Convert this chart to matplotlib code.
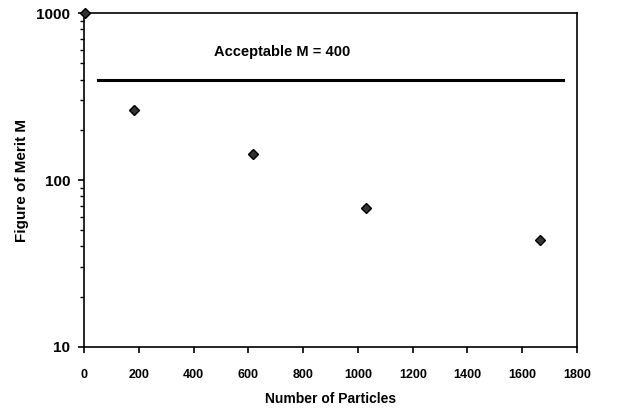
import matplotlib.pyplot as plt
from matplotlib.ticker import FixedLocator, LogLocator, NullFormatter

plt.rcParams['font.family'] = ['Liberation Sans', 'DejaVu Sans']
plt.rcParams['font.weight'] = 'bold'

# Данные
particles = [5, 182, 617, 1030, 1665]
merit = [1000, 262, 143, 68, 44]
acceptable_x = [50, 1750]
acceptable_m = [400, 400]

fig = plt.figure(figsize=(6.39, 4.12), dpi=100)
ax = fig.add_axes([0.1315, 0.158, 0.7715, 0.81])

ax.plot(acceptable_x, acceptable_m, color="black", linewidth=2.2)
ax.plot(particles, merit, linestyle="none", marker="D", markersize=5.5,
        markerfacecolor="#333333", markeredgecolor="black", clip_on=False, zorder=5)
ax.text(723, 585, "Acceptable M = 400", ha="center", va="center", fontsize=10.5, fontweight="bold")

ax.set_yscale("log")
ax.set_ylim(10, 1000)
ax.set_xlim(0, 1800)
ax.xaxis.set_major_locator(FixedLocator(range(0, 1801, 200)))
ax.yaxis.set_major_locator(FixedLocator([10, 100, 1000]))
ax.yaxis.set_minor_locator(LogLocator(base=10, subs=range(2, 10)))
ax.yaxis.set_minor_formatter(NullFormatter())
ax.set_yticklabels(["10", "100", "1000"])

ax.tick_params(axis="x", which="major", direction="out", length=4, width=1.2,
               labelsize=9, pad=12)
ax.tick_params(axis="y", which="major", direction="out", length=4, width=1.2,
               labelsize=11, pad=6)
ax.tick_params(axis="y", which="minor", direction="out", length=3, width=1)
for s in ax.spines.values():
    s.set_linewidth(1.2)

ax.set_xlabel("Number of Particles", fontsize=10, fontweight="bold", labelpad=8)
ax.set_ylabel("Figure of Merit M", fontsize=11, fontweight="bold", labelpad=5)

plt.savefig("out.png")
plt.close()
